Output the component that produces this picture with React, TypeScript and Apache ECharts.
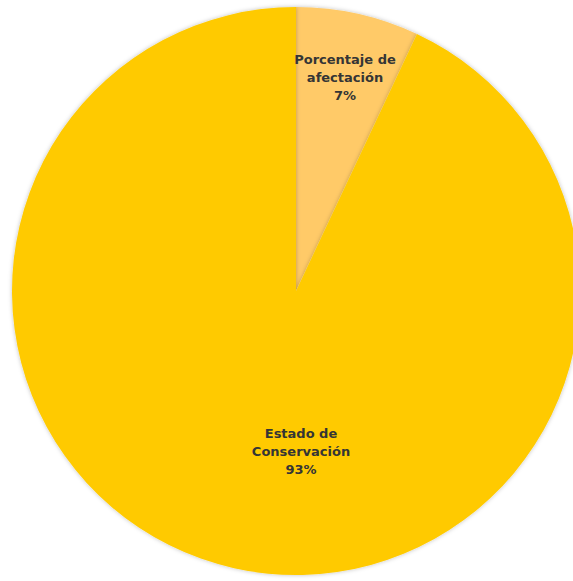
import React, { useEffect, useRef } from "react";
import * as echarts from "echarts";

const categories = ["Porcentaje de\nafectación", "Estado de\nConservación"];
const values = [7, 93];
const colors = ["#FFCA68", "#FFCA00"];

export default function App() {
  const ref = useRef<HTMLDivElement>(null);
  useEffect(() => {
    document.body.style.margin = "0";
    const chart = echarts.init(ref.current!, null, { renderer: "svg" });
    chart.setOption({
      animation: false,
      backgroundColor: "#ffffff",
      series: [
        {
          type: "pie",
          center: [296, 291],
          radius: 284,
          startAngle: 90,
          clockwise: true,
          data: categories.map((name, i) => ({
            name,
            value: values[i],
            itemStyle: { color: colors[i] },
          })),
          itemStyle: {
            borderWidth: 0,
            shadowBlur: 4,
            shadowColor: "rgba(0,0,0,0.25)",
          },
          label: {
            show: true,
            position: "inside",
            formatter: "{b}\n{c}%",
            fontFamily: "DejaVu Sans",
            fontWeight: "bold",
            fontSize: 13,
            lineHeight: 18,
            color: "#353535",
            align: "center",
          },
          labelLayout: (p: any) =>
            p.dataIndex === 0
              ? { x: 345, y: 77, align: "center", verticalAlign: "middle" }
              : { x: 301, y: 451, align: "center", verticalAlign: "middle" },
          labelLine: { show: false },
          emphasis: { disabled: true },
        },
      ],
    });
    return () => chart.dispose();
  }, []);
  return <div ref={ref} style={{ width: 573, height: 581 }} />;
}
